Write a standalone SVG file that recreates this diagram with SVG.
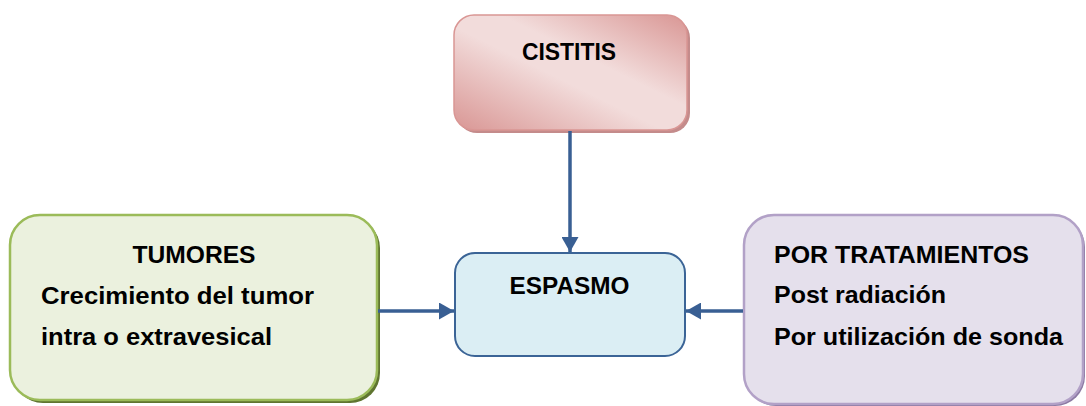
<svg xmlns="http://www.w3.org/2000/svg" width="1086" height="406" viewBox="0 0 1086 406">
  <defs>
    <linearGradient id="pinkFill" x1="0" y1="1" x2="1" y2="0">
      <stop offset="0" stop-color="#d99694"/>
      <stop offset="0.45" stop-color="#f2dcdb"/>
      <stop offset="0.6" stop-color="#f2dcdb"/>
      <stop offset="1" stop-color="#d99694"/>
    </linearGradient>
    <marker id="arrowHead" viewBox="0 0 15 17" refX="15" refY="8.5" markerWidth="15" markerHeight="17" markerUnits="userSpaceOnUse" orient="auto">
      <path d="M0,0 L15,8.5 L0,17 Z" fill="#395f93"/>
    </marker>
  </defs>
  <style>
    text { font-family: "Liberation Sans", Arial, sans-serif; font-weight: bold; font-size: 24px; fill: #000; }
    .mid { text-anchor: middle; }
    .link { stroke: #395f93; stroke-width: 3.5; fill: none; marker-end: url(#arrowHead); }
  </style>

  <rect width="1086" height="406" fill="#ffffff"/>

  <!-- top cause -->
  <g id="cistitis">
    <rect x="457" y="18" width="233" height="115" rx="20" fill="#c48b8b"/>
    <rect x="454" y="15" width="233" height="115" rx="20" fill="url(#pinkFill)" stroke="#d99694" stroke-width="1.5"/>
    <text class="mid" x="569" y="60" textLength="94" lengthAdjust="spacingAndGlyphs">CISTITIS</text>
  </g>

  <!-- left cause -->
  <g id="tumores">
    <rect x="13" y="218" width="367" height="185" rx="30" fill="#5f7530"/>
    <rect x="10" y="215" width="367" height="185" rx="30" fill="#ebf1de" stroke="#9bbb59" stroke-width="2.5"/>
    <text class="mid" x="194" y="263" textLength="123" lengthAdjust="spacingAndGlyphs">TUMORES</text>
    <text x="41" y="304" textLength="273" lengthAdjust="spacingAndGlyphs">Crecimiento del tumor</text>
    <text x="41" y="345" textLength="231" lengthAdjust="spacingAndGlyphs">intra o extravesical</text>
  </g>

  <!-- central effect -->
  <g id="espasmo">
    <rect x="455" y="253" width="230" height="103" rx="20" fill="#dbeef4" stroke="#3b6496" stroke-width="2"/>
    <text class="mid" x="569.5" y="294" textLength="120" lengthAdjust="spacingAndGlyphs">ESPASMO</text>
  </g>

  <!-- right cause -->
  <g id="tratamientos">
    <rect x="746" y="217" width="339" height="189" rx="30" fill="#8c7aa3"/>
    <rect x="744" y="215" width="339" height="189" rx="30" fill="#e5e0ec" stroke="#b2a1c7" stroke-width="2.5"/>
    <text x="774" y="263" textLength="255" lengthAdjust="spacingAndGlyphs">POR TRATAMIENTOS</text>
    <text x="774" y="303" textLength="172" lengthAdjust="spacingAndGlyphs">Post radiación</text>
    <text x="774" y="345" textLength="289" lengthAdjust="spacingAndGlyphs">Por utilización de sonda</text>
  </g>

  <g id="connectors">
    <line class="link" x1="570" y1="131" x2="570" y2="252"/>
    <line class="link" x1="378" y1="311" x2="454" y2="311"/>
    <line class="link" x1="743" y1="311" x2="686" y2="311"/>
  </g>
</svg>
